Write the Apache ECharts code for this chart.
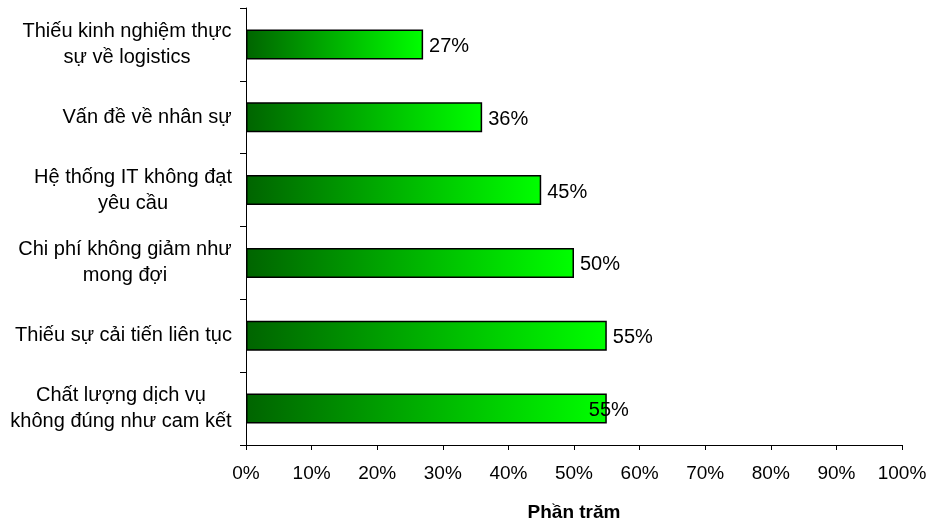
<!DOCTYPE html>
<html style="height: 100%">
<head>
    <meta charset="utf-8">
    <script src="https://cdn.jsdelivr.net/npm/echarts@6/dist/echarts.min.js"></script>
</head>
<body style="height: 100%; margin: 0; background: #fff">
<div id="container" style="width: 931px; height: 527px"></div>

<script type="text/javascript">
    var categories = [
        'Thiếu kinh nghiệm thực\nsự về logistics',
        'Vấn đề về nhân sự',
        'Hệ thống IT không đạt\nyêu cầu',
        'Chi phí không giảm như\nmong đợi',
        'Thiếu sự cải tiến liên tục',
        'Chất lượng dịch vụ\nkhông đúng như cam kết'
    ];
    var values = [27, 36, 45, 50, 55, 55];
    var xTicks = [0, 10, 20, 30, 40, 50, 60, 70, 80, 90, 100];

    var FONT = 'Liberation Sans, Arial, sans-serif';
    var FS = 19;
    var dom = document.getElementById('container');
    var myChart = echarts.init(dom);

    // measure each label block so lines can be centred inside a right-aligned block
    var ctx = document.createElement('canvas').getContext('2d');
    ctx.font = '20px ' + FONT;
    var rich = {};
    categories.forEach(function (c, i) {
        var w = Math.max.apply(null, c.split('\n').map(function (s) { return ctx.measureText(s).width; }));
        rich['c' + i] = {width: Math.ceil(w), align: 'center', fontSize: 20, fontFamily: FONT, color: '#000', lineHeight: 26};
    });

    var barData = values.map(function (v, i) {
        var item = {value: v};
        if (i === values.length - 1) {
            item.label = {offset: [-24, 2]};
        }
        return item;
    });

    var option = {
        animation: false,
        textStyle: {fontFamily: FONT},
        grid: {left: 246, right: 29, top: 8, bottom: 79},
        xAxis: {
            type: 'value',
            min: xTicks[0],
            max: xTicks[xTicks.length - 1],
            interval: 10,
            name: 'Phần trăm',
            nameLocation: 'middle',
            nameGap: 58,
            nameTextStyle: {fontSize: FS, fontWeight: 'bold', color: '#000', fontFamily: FONT},
            axisLine: {show: true, lineStyle: {color: '#000', width: 1}},
            axisTick: {show: true, length: 5, lineStyle: {color: '#000'}},
            splitLine: {show: false},
            axisLabel: {
                fontSize: FS,
                color: '#000',
                margin: 19,
                formatter: function (v) { return v + '%'; }
            }
        },
        yAxis: {
            type: 'category',
            inverse: true,
            data: categories,
            axisLine: {lineStyle: {color: '#000', width: 1}},
            axisTick: {show: true, length: 6, lineStyle: {color: '#000'}},
            axisLabel: {
                margin: 14,
                align: 'right',
                lineHeight: 26,
                formatter: function (v) {
                    var i = categories.indexOf(v);
                    return v.split('\n').map(function (s) { return '{c' + i + '|' + s + '}'; }).join('\n');
                },
                rich: rich
            }
        },
        series: [{
            type: 'bar',
            barWidth: 30,
            data: barData,
            itemStyle: {
                borderColor: '#000',
                borderWidth: 1.5,
                color: new echarts.graphic.LinearGradient(0, 0, 1, 0, [
                    {offset: 0, color: '#006400'},
                    {offset: 1, color: '#00ff00'}
                ])
            },
            label: {
                show: true,
                position: 'right',
                distance: 6,
                offset: [0, 2],
                fontSize: 20,
                color: '#000',
                fontFamily: FONT,
                formatter: '{c}%'
            }
        }]
    };

    myChart.setOption(option);
</script>
</body>
</html>
